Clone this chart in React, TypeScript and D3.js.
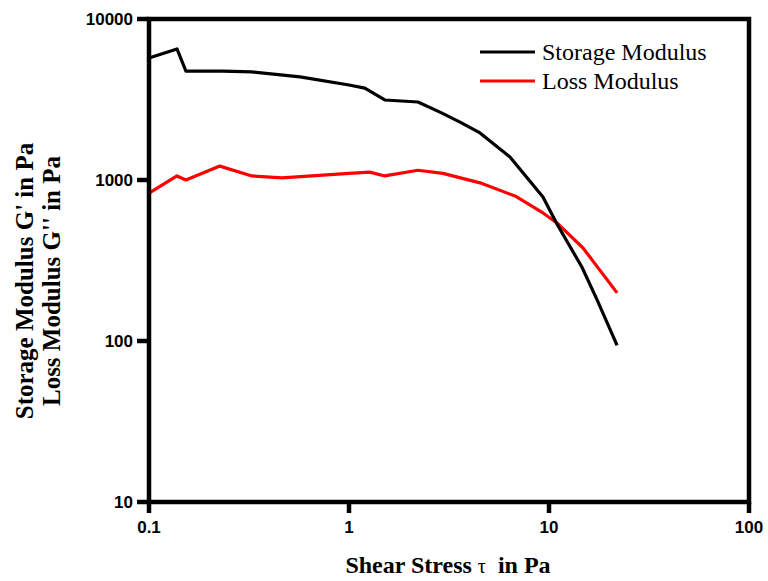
import React from "react";
import * as d3 from "d3";

const stressStorage = [0.1, 0.138, 0.153, 0.234, 0.327, 0.569, 1.0, 1.2, 1.51, 2.21, 2.85, 3.59, 4.52, 6.38, 9.33, 10.96, 14.6, 17.4, 21.9];
const storageModulus = [5730, 6520, 4750, 4750, 4690, 4370, 3890, 3720, 3140, 3050, 2640, 2290, 1960, 1390, 784, 533, 288, 180, 94];
const stressLoss = [0.1, 0.138, 0.153, 0.226, 0.327, 0.462, 1.0, 1.27, 1.51, 2.21, 2.95, 4.52, 6.76, 9.33, 10.96, 14.8, 21.9];
const lossModulus = [830, 1060, 1000, 1220, 1060, 1030, 1100, 1120, 1060, 1150, 1100, 960, 796, 624, 541, 378, 199];
const xTicks = [0.1, 1, 10, 100];
const xTickLabels = ["0.1", "1", "10", "100"];
const yTicks = [10, 100, 1000, 10000];
const yTickLabels = ["10", "100", "1000", "10000"];
const seriesNames = ["Storage Modulus", "Loss Modulus"];
const seriesColors = ["#000000", "#ff0000"];

export default function App() {
  const W = 768, H = 581;
  const left = 149, right = 749, top = 19, bottom = 502;
  const x = d3.scaleLog().domain([0.1, 100]).range([left, right]);
  const y = d3.scaleLog().domain([10, 10000]).range([bottom, top]);
  const line = d3.line<[number, number]>().x(d => x(d[0])).y(d => y(d[1]));
  const s1 = stressStorage.map((v, i) => [v, storageModulus[i]] as [number, number]);
  const s2 = stressLoss.map((v, i) => [v, lossModulus[i]] as [number, number]);
  const tickFont = "'Liberation Sans', Arial, sans-serif";
  const serif = "'Liberation Serif', 'Times New Roman', serif";
  return (
    <svg width={W} height={H} style={{ position: "absolute", left: 0, top: 0, background: "#fff" }}>
      <rect x={0} y={0} width={W} height={H} fill="#fff" />
      <path d={line(s2) || ""} fill="none" stroke={seriesColors[1]} strokeWidth={3.2} strokeLinejoin="round" />
      <path d={line(s1) || ""} fill="none" stroke={seriesColors[0]} strokeWidth={3.2} strokeLinejoin="round" />
      <rect x={left} y={top} width={right - left} height={bottom - top} fill="none" stroke="#000" strokeWidth={4.5} />
      {yTicks.map((t, i) => (
        <g key={"y" + i}>
          <line x1={left - 12} x2={left} y1={y(t)} y2={y(t)} stroke="#000" strokeWidth={4.5} />
          <text x={left - 16} y={y(t)} dy="0.35em" textAnchor="end" fontFamily={tickFont} fontWeight="bold" fontSize={17} fill="#000">{yTickLabels[i]}</text>
        </g>
      ))}
      {xTicks.map((t, i) => (
        <g key={"x" + i}>
          <line x1={x(t)} x2={x(t)} y1={bottom} y2={bottom + 11} stroke="#000" strokeWidth={4.5} />
          <text x={x(t)} y={527} dy="0.35em" textAnchor="middle" fontFamily={tickFont} fontWeight="bold" fontSize={17} fill="#000">{xTickLabels[i]}</text>
        </g>
      ))}
      <text x={448} y={573} textAnchor="middle" fontFamily={serif} fontWeight="bold" fontSize={24} fill="#000" style={{ whiteSpace: "pre" }}>
        Shear Stress <tspan fontWeight="normal" fontSize={20}>τ</tspan>  in Pa
      </text>
      <text transform="translate(33,281) rotate(-90)" textAnchor="middle" fontFamily={serif} fontWeight="bold" fontSize={25} fill="#000">Storage Modulus G' in Pa</text>
      <text transform="translate(60,281) rotate(-90)" textAnchor="middle" fontFamily={serif} fontWeight="bold" fontSize={25} fill="#000">Loss Modulus G'' in Pa</text>
      {seriesNames.map((n, i) => (
        <g key={"l" + i}>
          <line x1={480} x2={535} y1={52 + i * 29} y2={52 + i * 29} stroke={seriesColors[i]} strokeWidth={3.2} />
          <text x={542} y={52 + i * 29} dy="0.35em" fontFamily={serif} fontSize={24} fill="#000">{n}</text>
        </g>
      ))}
    </svg>
  );
}
